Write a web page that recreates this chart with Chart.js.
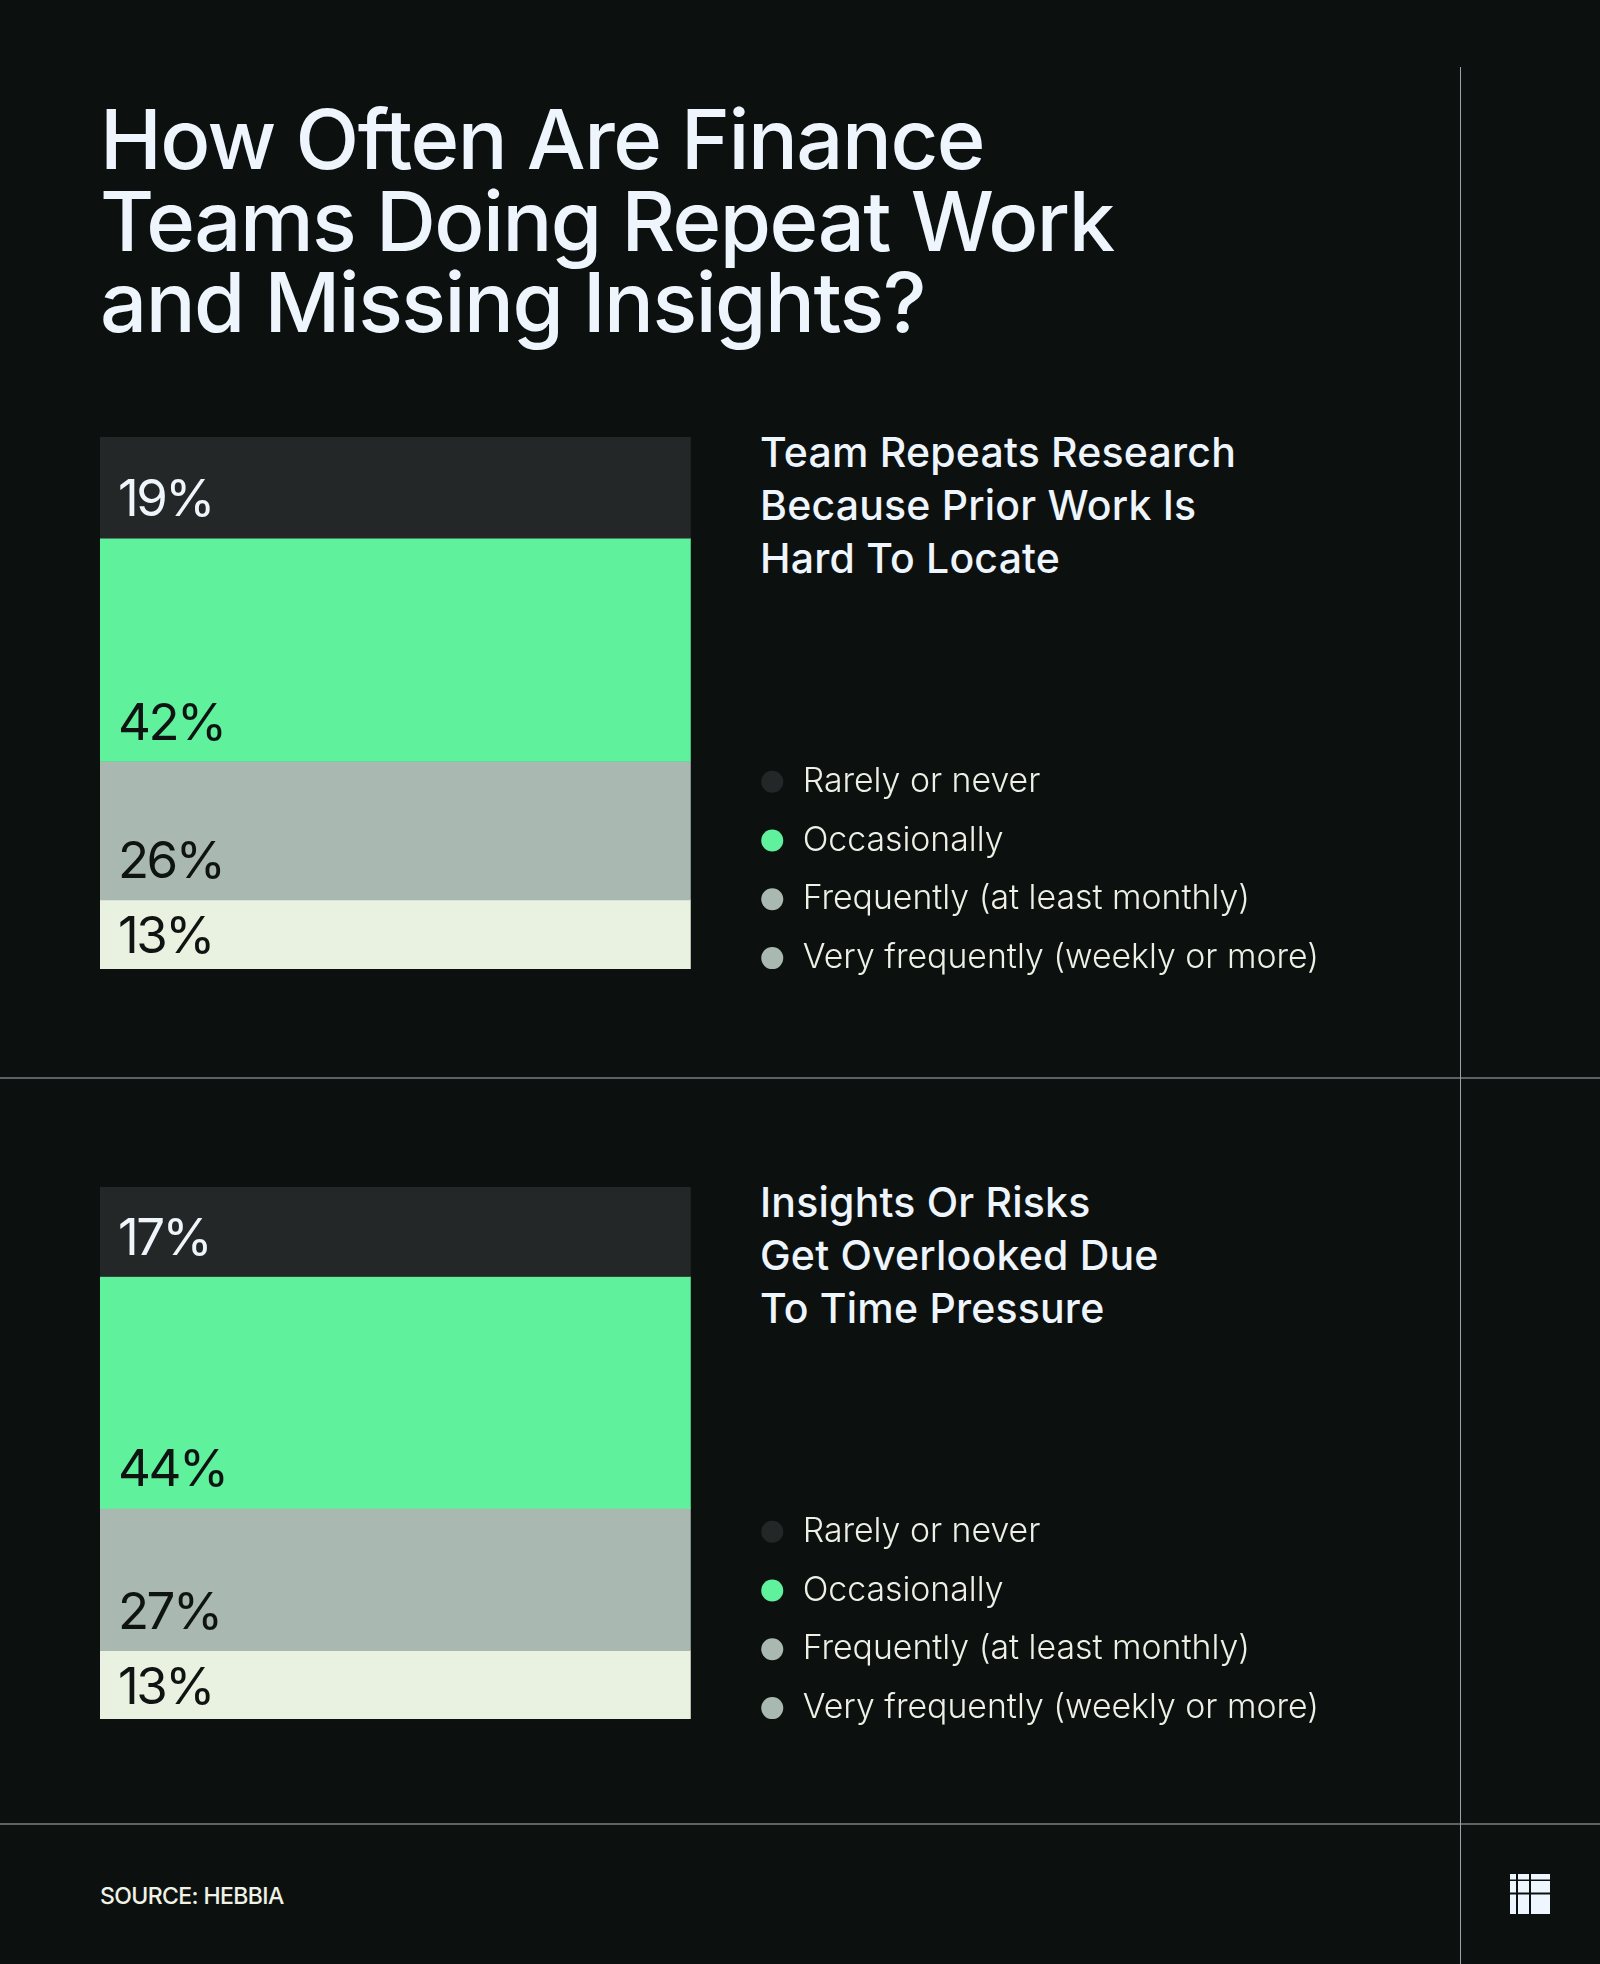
<!DOCTYPE html>
<html>
<head>
<meta charset="utf-8">
<title>How Often Are Finance Teams Doing Repeat Work and Missing Insights?</title>
<script src="https://cdn.jsdelivr.net/npm/chart.js@4.4.1/dist/chart.umd.min.js"></script>
<style>
  html, body { margin: 0; padding: 0; }
  body {
    width: 1600px; height: 1964px; position: relative; overflow: hidden;
    background: #0c110f; font-family: Inter, "Noto Sans", sans-serif;
  }
  .title {
    position: absolute; left: 100px; top: 99px; margin: 0;
    font-size: 83px; font-weight: 500; line-height: 81.5px; letter-spacing: -1.5px;
    color: #eef5fd;
  }
  .subtitle {
    position: absolute; left: 760px; margin: 0;
    font-size: 41px; font-weight: 500; line-height: 53px; letter-spacing: 0.2px;
    color: #eef5fd;
  }
  .chartbox { position: absolute; left: 100px; }
  .hline { position: absolute; left: 0; width: 1600px; height: 2px; background: #5c6368; }
  .vline { position: absolute; left: 1460px; top: 67px; width: 1px; height: 1897px; background: #9aa4ae; }
  .source {
    position: absolute; left: 100px; top: 1884px;
    font-size: 23px; font-weight: 500; line-height: 24px; letter-spacing: -0.6px;
    color: #f0f2e6;
  }
  .logo { position: absolute; left: 1510px; top: 1874px; }
</style>
</head>
<body>

<h1 class="title">How Often Are Finance<br>Teams Doing Repeat Work<br>and Missing Insights?</h1>

<h2 class="subtitle" style="top:426px">Team Repeats Research<br>Because Prior Work Is<br>Hard To Locate</h2>
<div class="chartbox" style="top:437px"><canvas id="repeatChart"></canvas></div>

<div class="hline" style="top:1077px"></div>

<h2 class="subtitle" style="top:1176px">Insights Or Risks<br>Get Overlooked Due<br>To Time Pressure</h2>
<div class="chartbox" style="top:1187px"><canvas id="insightChart"></canvas></div>

<div class="hline" style="top:1823px"></div>
<div class="vline"></div>

<div class="source">SOURCE: HEBBIA</div>
<svg class="logo" width="40" height="40" viewBox="0 0 40 40">
  <g fill="#eef6ff">
    <rect x="0" y="0" width="6" height="5.5"/><rect x="8" y="0" width="11" height="5.5"/><rect x="21" y="0" width="19" height="5.5"/>
    <rect x="0" y="7" width="6" height="11.5"/><rect x="8" y="7" width="11" height="11.5"/><rect x="21" y="7" width="19" height="11.5"/>
    <rect x="0" y="20.5" width="6" height="19.5"/><rect x="8" y="20.5" width="11" height="19.5"/><rect x="21" y="20.5" width="19" height="19.5"/>
  </g>
</svg>

<script>
// Constants

// answer options, top of the bar first (same order as the legend)
const categories = [
  "Rarely or never",
  "Occasionally",
  "Frequently (at least monthly)",
  "Very frequently (weekly or more)"
];

// percent of respondents, one value per answer option
const repeatResearch = [19, 42, 26, 13];
const overlookedInsights = [17, 44, 27, 13];

// colours
const barColors = ["#232728", "#60f19d", "#a9b9b1", "#e9f2e1"];
const legendColors = ["#232728", "#60f19d", "#a9b9b1", "#a9b9b1"];
const valueTextColors = ["#eef5fb", "#0f1413", "#0f1413", "#0f1413"];

// layout sizes (pixels)
const BAR_W = 591;
const CHART_H = 563;
const GAP_TO_LEGEND = 43;
const BELOW_BAR = 31;
const LEGEND_PAD = 25;
const LEGEND_BOX_W = 27;
const LEGEND_FONT = { family: "Inter", size: 33.8, weight: 300, lineHeight: 1 };

// Functions

// draws the "19%" style labels at the lower left of every bar segment
const valueLabels = {
  id: "valueLabels",
  afterDatasetsDraw(chart) {
    const ctx = chart.ctx;
    ctx.save();
    ctx.font = "400 51px Inter";
    ctx.letterSpacing = "-2.5px";
    ctx.textAlign = "left";
    ctx.textBaseline = "alphabetic";
    chart.data.datasets.forEach(function (ds, i) {
      const bar = chart.getDatasetMeta(i).data[0];
      const top = Math.min(bar.y, bar.base);
      const bottom = Math.max(bar.y, bar.base);
      const pad = Math.min(22, (bottom - top - 37.5) / 2);
      ctx.fillStyle = valueTextColors[i];
      ctx.fillText(ds.data[0] + "%", bar.x - bar.width / 2 + 18, bottom - pad);
    });
    ctx.restore();
  }
};

// makes one stacked bar with its legend on the right
function makeChart(canvasId, values) {
  const canvas = document.getElementById(canvasId);

  // legend width is worked out the same way Chart.js does, so the bar keeps its width
  const mctx = canvas.getContext("2d");
  mctx.font = LEGEND_FONT.weight + " " + LEGEND_FONT.size + "px " + LEGEND_FONT.family;
  let textW = 0;
  categories.forEach(function (c) { textW = Math.max(textW, mctx.measureText(c).width); });
  const legendW = LEGEND_PAD + LEGEND_BOX_W + LEGEND_FONT.size / 2 + textW + 10;
  const w = Math.round(BAR_W + GAP_TO_LEGEND + legendW);

  canvas.width = w;
  canvas.height = CHART_H;
  canvas.style.width = w + "px";
  canvas.style.height = CHART_H + "px";

  const total = values.reduce(function (a, b) { return a + b; }, 0);

  return new Chart(canvas, {
    type: "bar",
    data: {
      labels: [""],
      datasets: categories.map(function (c, i) {
        return {
          label: c,
          data: [values[i]],
          backgroundColor: barColors[i],
          borderWidth: 0,
          barPercentage: 1,
          categoryPercentage: 1
        };
      })
    },
    options: {
      responsive: false,
      animation: false,
      layout: { padding: 0 },
      plugins: {
        tooltip: { enabled: false },
        legend: {
          position: "right",
          align: "end",
          labels: {
            usePointStyle: true,
            pointStyle: "circle",
            boxWidth: LEGEND_BOX_W,
            boxHeight: 15.56,
            padding: LEGEND_PAD,
            color: "#eef0e6",
            font: LEGEND_FONT,
            generateLabels: function (chart) {
              const items = Chart.defaults.plugins.legend.labels.generateLabels(chart);
              items.forEach(function (item, i) {
                item.fillStyle = legendColors[i];
                item.strokeStyle = legendColors[i];
                item.lineWidth = 0;
              });
              return items;
            }
          }
        }
      },
      scales: {
        // both axes are hidden; afterFit keeps the space under the bar and before the legend
        x: {
          display: false,
          stacked: true,
          afterFit: function (scale) { scale.height = BELOW_BAR; }
        },
        y: {
          display: false,
          stacked: true,
          position: "right",
          reverse: true,
          min: 0,
          max: total,
          afterFit: function (scale) { scale.width = GAP_TO_LEGEND; }
        }
      }
    },
    plugins: [valueLabels]
  });
}

function main() {
  makeChart("repeatChart", repeatResearch);
  makeChart("insightChart", overlookedInsights);
}

main();
</script>
</body>
</html>
